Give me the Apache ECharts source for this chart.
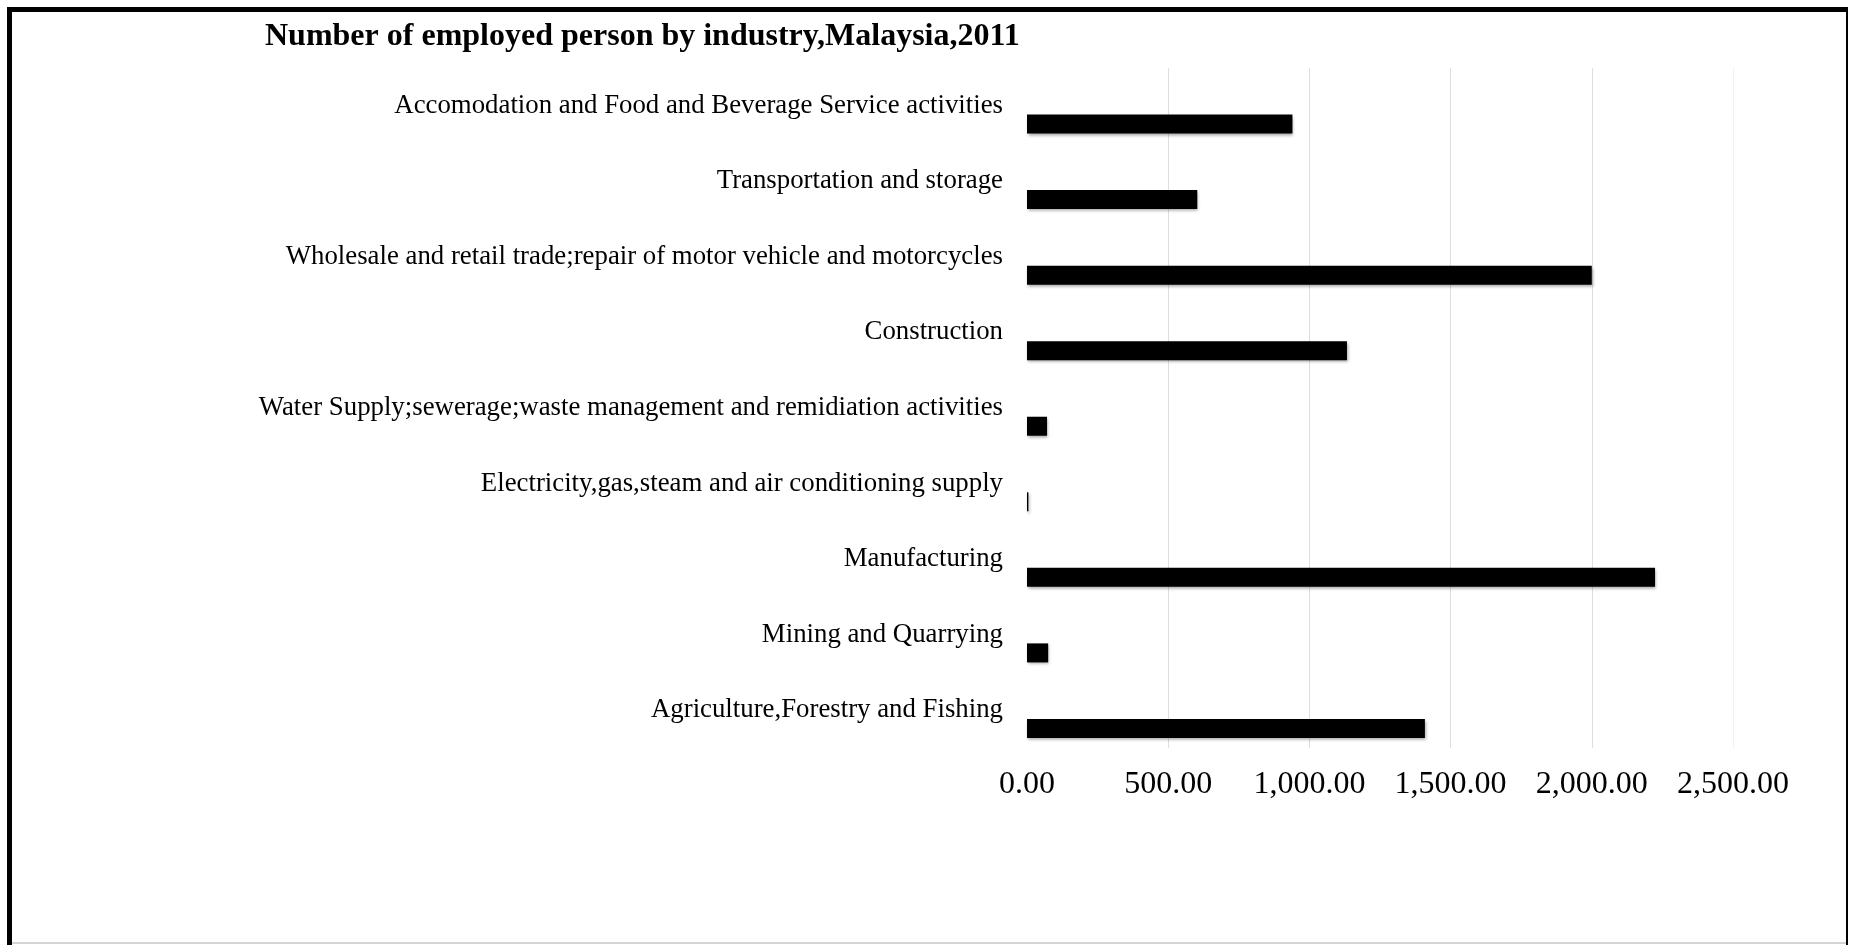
<!DOCTYPE html>
<html>
<head>
<meta charset="utf-8">
<script src="https://cdn.jsdelivr.net/npm/echarts@6/dist/echarts.min.js"></script>
<style>
html,body{margin:0;padding:0;background:#fff;}
#chart{width:1849px;height:945px;}
</style>
</head>
<body>
<div id="chart"></div>
<script>
// Categories listed bottom-to-top (ECharts category y axis starts at the bottom)
var categories = [
  "Agriculture,Forestry and Fishing",
  "Mining and Quarrying",
  "Manufacturing",
  "Electricity,gas,steam and air conditioning supply",
  "Water Supply;sewerage;waste management and remidiation activities",
  "Construction",
  "Wholesale and retail trade;repair of motor vehicle and motorcycles",
  "Transportation and storage",
  "Accomodation and Food and Beverage Service activities"
];
var employed = [1409, 75, 2224, 5, 71, 1133, 2000, 603, 940];
var axisMin = 0, axisMax = 2500, axisStep = 500;
var titleText = "Number of employed person by industry,Malaysia,2011";

var FONT = "'Liberation Serif', 'Times New Roman', serif";

function fmt(v) {
  var s = Math.round(v).toString().replace(/\B(?=(\d{3})+(?!\d))/g, ",");
  return s + ".00";
}

var chart = echarts.init(document.getElementById('chart'), null, {renderer: 'canvas'});
chart.setOption({
  backgroundColor: '#ffffff',
  animation: false,
  title: {
    text: titleText,
    left: 260,
    top: 16,
    textStyle: {fontFamily: FONT, fontSize: 32, fontWeight: 'bold', color: '#000'}
  },
  grid: {left: 1027, right: 116, top: 68, bottom: 197, containLabel: false},
  xAxis: {
    type: 'value',
    min: axisMin, max: axisMax, interval: axisStep,
    axisLine: {show: false},
    axisTick: {show: false},
    splitLine: {show: true, lineStyle: {
      color: ['#ffffff', '#d9dee7', '#d9dee7', '#d9dee7', '#d9dee7', '#f1f2f4'], width: 1}},
    axisLabel: {
      formatter: fmt,
      fontFamily: FONT, fontSize: 32, color: '#000', margin: 21
    }
  },
  yAxis: {
    type: 'category',
    data: categories,
    axisLine: {show: false},
    axisTick: {show: false},
    splitLine: {show: false},
    axisLabel: {fontFamily: FONT, fontSize: 26.8, color: '#000', margin: 24}
  },
  series: [
    {type: 'bar', name: 'spacer', data: [], barWidth: 19, barGap: '92%', silent: true},
    {
      type: 'bar', name: 'Employed', data: employed, barWidth: 19, barGap: '92%',
      itemStyle: {color: '#000', shadowColor: 'rgba(0,0,0,0.35)', shadowBlur: 3, shadowOffsetX: 1, shadowOffsetY: 2}
    }
  ],
  graphic: [
    {type: 'rect', left: 7, top: 7, shape: {width: 5, height: 938}, style: {fill: '#000'}, silent: true},
    {type: 'rect', left: 7, top: 7, shape: {width: 1841, height: 5}, style: {fill: '#000'}, silent: true},
    {type: 'rect', left: 1846, top: 7, shape: {width: 2, height: 938}, style: {fill: '#000'}, silent: true},
    {type: 'rect', left: 12, top: 942, shape: {width: 1834, height: 2}, style: {fill: '#d4d4d4'}, silent: true}
  ]
});
</script>
</body>
</html>
